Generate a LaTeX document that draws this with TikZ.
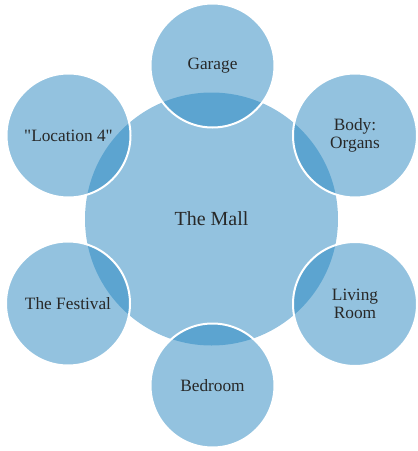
\documentclass[tikz,border=0pt]{standalone}
\usepackage{fontspec}
\setmainfont{Liberation Serif}[Ligatures=TeXOff]
\definecolor{ringblue}{RGB}{39,134,192}
\definecolor{labelgray}{RGB}{40,40,40}
\begin{document}
\begin{tikzpicture}[x=1pt,y=-1pt,
  hub/.style={circle, fill=ringblue, fill opacity=0.5, text opacity=1,
    minimum size=253pt, inner sep=0pt, text=labelgray,
    font=\fontsize{20}{22}\selectfont},
  spoke/.style={circle, fill=ringblue, fill opacity=0.5, text opacity=1,
    draw=white, draw opacity=1, line width=2pt,
    minimum size=124pt, inner sep=0pt, text=labelgray, align=center,
    font=\fontsize{17.3}{18}\selectfont}]
\useasboundingbox (0,0) rectangle (418,451);
% central circle
\node[hub] (mall) at (211.5,219) {The Mall};
% surrounding circles
\node[spoke] (garage)   at (212.5,65.5)  {Garage};
\node[spoke] (body)     at (355,135.5)   {Body:\\Organs};
\node[spoke] (living)   at (355,304)     {Living\\Room};
\node[spoke] (bedroom)  at (212.5,385.5) {Bedroom};
\node[spoke] (festival) at (68,303.5)    {The Festival};
\node[spoke] (loc)      at (68.5,135.5)  {"Location 4"};
\end{tikzpicture}
\end{document}
